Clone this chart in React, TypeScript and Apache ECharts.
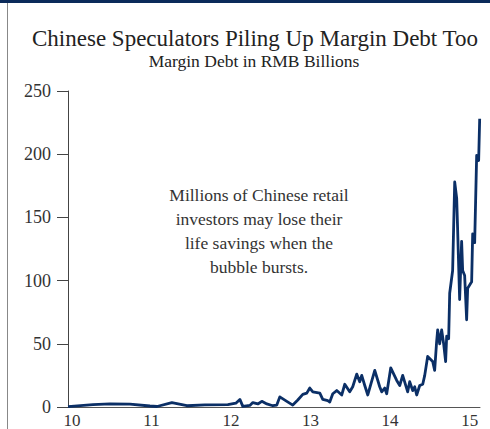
import React, { useEffect, useRef } from "react";
import * as echarts from "echarts";

const titleText = "Chinese Speculators Piling Up Margin Debt Too";
const subtitleText = "Margin Debt in RMB Billions";
const noteLines = [
  "Millions of Chinese retail",
  "investors may lose their",
  "life savings when the",
  "bubble bursts.",
];
const xTickYears = [2010, 2011, 2012, 2013, 2014, 2015];
const yTicks = [0, 50, 100, 150, 200, 250];

// decimal-year dates and margin debt (RMB billions)
const dates = [
  2009.95, 2010.264, 2010.477, 2010.729, 2010.98, 2011.068, 2011.256, 2011.445,
  2011.671, 2011.96, 2012.06, 2012.111, 2012.148, 2012.236, 2012.274,
  2012.337, 2012.387, 2012.45, 2012.525, 2012.575, 2012.613, 2012.701, 2012.776,
  2012.839, 2012.902, 2012.952, 2012.99, 2013.028, 2013.116, 2013.153, 2013.216,
  2013.241, 2013.279, 2013.329, 2013.392, 2013.43, 2013.492, 2013.53, 2013.58,
  2013.618, 2013.643, 2013.681, 2013.719, 2013.807, 2013.869, 2013.894, 2013.932,
  2013.957, 2014.008, 2014.083, 2014.121, 2014.158, 2014.221, 2014.246, 2014.284,
  2014.309, 2014.334, 2014.372, 2014.41, 2014.435, 2014.472, 2014.535, 2014.56,
  2014.585, 2014.598, 2014.623, 2014.648, 2014.673, 2014.698, 2014.711, 2014.736,
  2014.749, 2014.786, 2014.812, 2014.837, 2014.849, 2014.862, 2014.874, 2014.899,
  2014.912, 2014.937, 2014.962, 2014.975, 2015.025, 2015.038, 2015.063, 2015.088,
  2015.113, 2015.126,
];
const values = [
  0.3, 1.8, 2.4, 2.3, 0.8, 0.4, 3.5, 1,
  1.7, 1.8, 3, 6, 0.5, 1.2, 3.5,
  2.4, 4.5, 2.4, 1, 1.5, 8, 4.5, 1.5,
  5.5, 10, 11, 15, 12, 11, 6, 5,
  4, 10.5, 13, 9.5, 18, 12, 16, 26,
  20, 25, 17, 9.5, 29, 16, 12, 15,
  10.5, 31, 21, 17, 25, 12, 20, 13,
  16, 9.5, 17, 18, 25, 40, 36, 29,
  52, 61, 50, 61, 50, 36, 56, 54,
  90, 108, 178, 165, 140, 111, 85, 131,
  108, 104, 69, 94, 99, 137, 130, 199,
  195, 228,
];

const SERIF = "'Liberation Serif', 'Times New Roman', serif";

export default function App() {
  const ref = useRef<HTMLDivElement>(null);
  useEffect(() => {
    if (!ref.current) return;
    const chart = echarts.init(ref.current, null, { renderer: "svg" });
    const data = dates.map((d, i) => [d, values[i]]);
    chart.setOption({
      animation: false,
      backgroundColor: "#ffffff",
      grid: { left: 68, right: 10, top: 91, bottom: 22, containLabel: false },
      xAxis: {
        type: "value",
        min: 2009.95,
        max: 2015.13,
        splitLine: { show: false },
        axisTick: { show: false },
        axisLine: { show: true, lineStyle: { color: "#555", width: 1 } },
        axisLabel: {
          customValues: xTickYears,
          formatter: (v: number) => String(Math.round(v) % 100),
          color: "#333",
          fontFamily: SERIF,
          fontSize: 17,
          margin: 5,
        },
      },
      yAxis: {
        type: "value",
        min: 0,
        max: 250,
        interval: 50,
        splitLine: { show: false },
        axisLine: { show: true, lineStyle: { color: "#444", width: 1 } },
        axisTick: { show: true, length: 11, lineStyle: { color: "#444" } },
        axisLabel: {
          customValues: yTicks,
          color: "#333",
          fontFamily: SERIF,
          fontSize: 18,
          margin: 17,
        },
      },
      series: [
        {
          type: "line",
          data,
          showSymbol: false,
          symbol: "none",
          lineStyle: { color: "#0b2f66", width: 2.8, join: "round" },
          z: 3,
        },
      ],
      graphic: [
        { type: "rect", shape: { x: 0, y: 0, width: 490, height: 3 }, style: { fill: "#0b2a5a" } },
        { type: "rect", shape: { x: 7, y: 3, width: 1, height: 426 }, style: { fill: "#888" } },
        {
          type: "text",
          x: 255,
          y: 38,
          style: {
            text: titleText,
            fontFamily: SERIF,
            fontSize: 23,
            fill: "#222",
            textAlign: "center",
            textVerticalAlign: "middle",
          },
        },
        {
          type: "text",
          x: 254,
          y: 61,
          style: {
            text: subtitleText,
            fontFamily: SERIF,
            fontSize: 17.5,
            fill: "#222",
            textAlign: "center",
            textVerticalAlign: "middle",
          },
        },
        ...noteLines.map((line, i) => ({
          type: "text",
          x: 259,
          y: 195 + i * 24,
          style: {
            text: line,
            fontFamily: SERIF,
            fontSize: 17.5,
            fill: "#333",
            textAlign: "center",
            textVerticalAlign: "middle",
          },
        })),
      ],
    });
    return () => chart.dispose();
  }, []);
  return (
    <div
      ref={ref}
      style={{ position: "fixed", left: 0, top: 0, width: 490, height: 429 }}
    />
  );
}
